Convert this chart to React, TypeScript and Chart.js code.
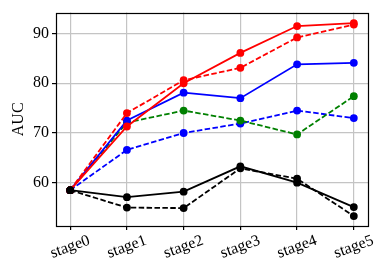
import React, { useEffect, useRef } from "react";
import { Chart, registerables } from "chart.js";

Chart.register(...registerables);

const categories = ["stage0", "stage1", "stage2", "stage3", "stage4", "stage5"];
const yTicks = [60, 70, 80, 90];

const blackSolid = [58.5, 57.1, 58.2, 63.3, 60.0, 55.1];
const blackDashed = [58.5, 55.0, 54.9, 62.9, 60.8, 53.3];
const greenDashed = [58.5, 72.1, 74.5, 72.5, 69.7, 77.4];
const blueDashed = [58.5, 66.6, 70.0, 71.9, 74.5, 73.0];
const blueSolid = [58.5, 72.5, 78.1, 77.0, 83.8, 84.1];
const redDashed = [58.5, 74.0, 80.6, 83.1, 89.2, 91.8];
const redSolid = [58.5, 71.3, 80.0, 86.1, 91.5, 92.1];

const FONT = "'Liberation Serif', 'Times New Roman', serif";

function mk(values: number[], color: string, dashed: boolean) {
  return {
    data: values.map((v, i) => ({ x: i, y: v })),
    borderColor: color,
    backgroundColor: color,
    pointBackgroundColor: color,
    pointBorderColor: color,
    pointRadius: 3.9,
    pointBorderWidth: 0,
    borderWidth: 1.8,
    borderDash: dashed ? [5.5, 2.4] : [],
    tension: 0,
    fill: false,
  };
}

const framePlugin = {
  id: "frame",
  afterDraw(chart: any) {
    const { ctx, chartArea } = chart;
    const xs = chart.scales.x;
    ctx.save();
    ctx.strokeStyle = "#000";
    ctx.lineWidth = 1.2;
    ctx.strokeRect(
      Math.round(chartArea.left) + 0.5,
      Math.round(chartArea.top) + 0.5,
      Math.round(chartArea.right - chartArea.left),
      Math.round(chartArea.bottom - chartArea.top)
    );
    ctx.fillStyle = "#000";
    ctx.font = `16px ${FONT}`;
    ctx.textAlign = "center";
    ctx.textBaseline = "middle";
    categories.forEach((c, i) => {
      const x = xs.getPixelForValue(i);
      ctx.save();
      ctx.translate(x, chartArea.bottom + 21);
      ctx.rotate((-20 * Math.PI) / 180);
      ctx.fillText(c, 0, 0);
      ctx.restore();
    });
    ctx.restore();
  },
};

export default function App() {
  const ref = useRef<HTMLCanvasElement>(null);
  useEffect(() => {
    if (!ref.current) return;
    const chart = new Chart(ref.current, {
      type: "line",
      data: {
        datasets: [
          mk(blackSolid, "#000000", false),
          mk(blackDashed, "#000000", true),
          mk(redSolid, "#ff0000", false),
          mk(redDashed, "#ff0000", true),
          mk(blueSolid, "#0000ff", false),
          mk(greenDashed, "#008000", true),
          mk(blueDashed, "#0000ff", true),
        ] as any,
      },
      options: {
        animation: false,
        responsive: false,
        maintainAspectRatio: false,
        layout: { padding: { top: 11, right: 21, left: 0, bottom: 0 } },
        plugins: { legend: { display: false }, tooltip: { enabled: false } },
        scales: {
          x: {
            type: "linear",
            min: -0.25,
            max: 5.25,
            afterBuildTicks: (s: any) => {
              s.ticks = categories.map((_, i) => ({ value: i }));
            },
            afterFit: (s: any) => {
              s.height = 48;
            },
            ticks: { color: "transparent", maxRotation: 0, minRotation: 0 },
            grid: {
              color: "#c4c4c4",
              lineWidth: 1.2,
              tickColor: "#000",
              tickLength: 4,
            },
            border: { display: false },
          },
          y: {
            type: "linear",
            min: 51.3,
            max: 94.2,
            afterBuildTicks: (s: any) => {
              s.ticks = yTicks.map((v) => ({ value: v }));
            },
            afterFit: (s: any) => {
              s.width = 56;
            },
            ticks: {
              color: "#000",
              padding: 3,
              font: { family: FONT, size: 16 },
            },
            grid: {
              color: "#c4c4c4",
              lineWidth: 1.2,
              tickColor: "#000",
              tickLength: 4,
            },
            border: { display: false },
            title: {
              display: true,
              text: "AUC",
              color: "#000",
              font: { family: FONT, size: 16 },
              padding: { top: 9, bottom: 0 },
            },
          },
        },
      },
      plugins: [framePlugin],
    });
    return () => chart.destroy();
  }, []);
  return (
    <div style={{ position: "fixed", left: 0, top: 0, width: 389, height: 274, background: "#fff" }}>
      <canvas ref={ref} width={389} height={274} />
    </div>
  );
}
